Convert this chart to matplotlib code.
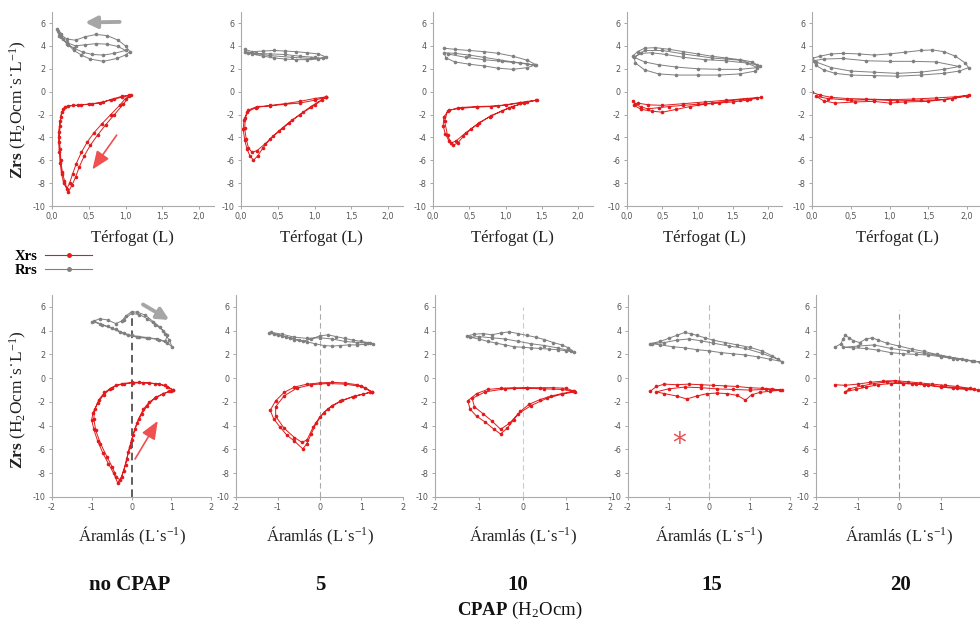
import matplotlib
matplotlib.use("Agg")
import matplotlib.pyplot as plt
from matplotlib.lines import Line2D
from matplotlib.ticker import FuncFormatter

plt.rcParams['axes.unicode_minus'] = False
plt.rcParams['mathtext.fontset'] = 'custom'
plt.rcParams['mathtext.rm'] = 'Liberation Serif'
plt.rcParams['mathtext.it'] = 'Liberation Serif:italic'
plt.rcParams['mathtext.bf'] = 'Liberation Serif:bold'

RED = '#e31a1c'
GRAY = '#808080'

cpap_labels = ['no CPAP', '5', '10', '15', '20']

# --- volume (Térfogat) panels: Zrs vs volume, (x, y) traces ---
vol_xrs_0 = [(1.05,-0.3),(0.95,-0.4),(0.85,-0.6),(0.7,-0.9),(0.55,-1.05),(0.4,-1.15),(0.28,-1.2),(0.18,-1.3),
             (0.13,-1.8),(0.11,-2.6),(0.09,-3.5),(0.09,-4.4),(0.1,-5.3),(0.11,-6.2),(0.13,-7.2),(0.16,-8.0),
             (0.2,-8.5),(0.24,-8.0),(0.28,-7.2),(0.33,-6.3),(0.4,-5.3),(0.48,-4.4),(0.57,-3.6),(0.68,-2.8),
             (0.8,-2.0),(0.92,-1.2),(1.0,-0.6),(1.07,-0.3),(0.95,-0.5),(0.8,-0.7),(0.65,-1.0),(0.5,-1.1),
             (0.35,-1.2),(0.22,-1.25),(0.15,-1.5),(0.12,-2.2),(0.11,-3.0),(0.1,-4.0),(0.11,-5.0),(0.12,-6.0),
             (0.14,-7.0),(0.17,-7.8),(0.22,-8.8),(0.27,-8.2),(0.32,-7.5),(0.37,-6.6),(0.44,-5.6),(0.52,-4.7),
             (0.62,-3.8),(0.73,-2.9),(0.85,-2.0),(0.97,-1.1),(1.05,-0.4)]
vol_rrs_0 = [(0.07,5.5),(0.1,5.1),(0.15,4.6),(0.22,4.1),(0.3,3.6),(0.4,3.2),(0.52,2.85),(0.7,2.65),(0.88,2.9),
             (1.0,3.2),(1.06,3.5),(1.0,4.0),(0.9,4.5),(0.75,4.9),(0.6,5.0),(0.45,4.8),(0.32,4.5),(0.2,4.6),
             (0.12,5.0),(0.08,5.3),(0.12,4.8),(0.2,4.2),(0.3,3.8),(0.42,3.45),(0.55,3.25),(0.7,3.2),(0.85,3.35),
             (1.0,3.6),(0.9,3.95),(0.75,4.15),(0.6,4.2),(0.45,4.1),(0.32,4.0),(0.2,4.3),(0.1,4.9)]

vol_xrs_5 = [(1.16,-0.45),(1.0,-0.6),(0.8,-0.85),(0.6,-1.05),(0.4,-1.2),(0.2,-1.4),(0.08,-1.8),(0.04,-2.5),
             (0.03,-3.3),(0.05,-4.2),(0.08,-5.0),(0.12,-5.6),(0.17,-6.0),(0.23,-5.6),(0.3,-4.9),(0.4,-4.1),
             (0.52,-3.4),(0.65,-2.7),(0.8,-2.0),(0.95,-1.3),(1.1,-0.7),(1.15,-0.5),(1.0,-0.75),(0.8,-1.0),
             (0.6,-1.1),(0.4,-1.25),(0.22,-1.3),(0.1,-1.6),(0.06,-2.3),(0.05,-3.2),(0.07,-4.1),(0.1,-4.9),
             (0.15,-5.3),(0.22,-5.15),(0.32,-4.6),(0.44,-3.9),(0.57,-3.2),(0.7,-2.5),(0.85,-1.8),(1.0,-1.2),
             (1.15,-0.5)]
vol_rrs_5 = [(0.05,3.7),(0.15,3.5),(0.3,3.55),(0.45,3.6),(0.6,3.55),(0.75,3.5),(0.9,3.4),(1.05,3.3),(1.15,3.05),
             (1.05,2.85),(0.9,2.8),(0.75,2.8),(0.6,2.85),(0.45,2.95),(0.3,3.1),(0.15,3.3),(0.05,3.5),(0.2,3.35),
             (0.4,3.3),(0.6,3.25),(0.8,3.1),(1.0,3.0),(1.12,2.9),(0.95,2.9),(0.7,3.0),(0.4,3.15),(0.1,3.4)]

vol_xrs_10 = [(1.43,-0.75),(1.2,-0.95),(1.0,-1.15),(0.8,-1.3),(0.6,-1.35),(0.4,-1.45),(0.22,-1.6),(0.15,-2.2),
              (0.14,-3.0),(0.17,-3.7),(0.22,-4.3),(0.27,-4.7),(0.34,-4.5),(0.42,-3.9),(0.52,-3.3),(0.64,-2.7),
              (0.78,-2.2),(0.95,-1.7),(1.1,-1.3),(1.25,-1.0),(1.42,-0.75),(1.2,-1.0),(0.9,-1.25),(0.6,-1.3),
              (0.35,-1.4),(0.2,-1.7),(0.16,-2.6),(0.2,-3.8),(0.25,-4.5),(0.32,-4.3),(0.45,-3.6),(0.6,-2.9),
              (0.8,-2.1),(1.05,-1.4),(1.3,-0.9)]
vol_rrs_10 = [(0.15,3.8),(0.3,3.7),(0.5,3.6),(0.7,3.5),(0.9,3.35),(1.1,3.1),(1.3,2.75),(1.42,2.35),(1.3,2.1),
              (1.1,1.95),(0.9,2.05),(0.7,2.25),(0.5,2.4),(0.3,2.6),(0.18,2.95),(0.15,3.4),(0.3,3.35),(0.5,3.2),
              (0.7,3.0),(0.9,2.8),(1.1,2.6),(1.3,2.45),(1.4,2.3),(1.2,2.5),(0.95,2.65),(0.7,2.8),(0.45,3.0),(0.2,3.3)]

vol_xrs_15 = [(0.08,-0.8),(0.12,-1.1),(0.2,-1.35),(0.3,-1.5),(0.45,-1.4),(0.6,-1.3),(0.8,-1.2),(1.0,-1.1),
              (1.2,-1.0),(1.4,-0.85),(1.6,-0.7),(1.75,-0.6),(1.9,-0.5),(1.7,-0.75),(1.5,-0.9),(1.3,-1.0),
              (1.1,-1.1),(0.9,-1.3),(0.7,-1.55),(0.5,-1.8),(0.35,-1.7),(0.2,-1.55),(0.1,-1.2),(0.15,-1.0),
              (0.3,-1.15),(0.5,-1.2),(0.8,-1.05),(1.1,-0.9),(1.4,-0.75),(1.7,-0.6),(1.85,-0.55)]
vol_rrs_15 = [(0.08,3.1),(0.15,3.5),(0.25,3.8),(0.4,3.85),(0.6,3.7),(0.8,3.5),(1.0,3.3),(1.2,3.1),(1.4,2.95),
              (1.6,2.8),(1.78,2.6),(1.88,2.2),(1.82,1.8),(1.6,1.55),(1.3,1.45),(1.0,1.45),(0.7,1.45),(0.45,1.55),
              (0.25,1.9),(0.12,2.5),(0.1,3.0),(0.2,3.35),(0.35,3.4),(0.55,3.25),(0.8,3.0),(1.1,2.8),(1.4,2.7),
              (1.7,2.5),(1.85,2.1),(1.6,1.95),(1.3,1.95),(1.0,2.0),(0.7,2.15),(0.45,2.35),(0.25,2.6),(0.1,3.0),
              (0.25,3.6),(0.5,3.6),(0.8,3.3),(1.2,2.95),(1.6,2.75),(1.85,2.3)]

vol_xrs_20 = [(0.0,-0.05),(0.1,-0.3),(0.25,-0.5),(0.45,-0.6),(0.7,-0.65),(1.0,-0.7),(1.3,-0.65),(1.6,-0.55),
              (1.85,-0.45),(2.03,-0.3),(1.8,-0.6),(1.5,-0.85),(1.2,-0.9),(1.0,-1.0),(0.8,-0.85),(0.55,-0.9),
              (0.3,-1.0),(0.15,-0.8),(0.05,-0.4),(0.2,-0.6),(0.5,-0.75),(0.8,-0.7),(1.1,-0.8),(1.4,-0.75),
              (1.7,-0.7),(2.0,-0.4)]
vol_rrs_20 = [(0.0,2.9),(0.1,3.1),(0.25,3.3),(0.4,3.35),(0.6,3.3),(0.8,3.2),(1.0,3.3),(1.2,3.45),(1.4,3.6),
              (1.55,3.65),(1.7,3.5),(1.85,3.1),(1.98,2.5),(2.02,2.1),(1.9,1.8),(1.7,1.6),(1.4,1.45),(1.1,1.35),
              (0.8,1.4),(0.5,1.45),(0.3,1.6),(0.15,1.9),(0.05,2.3),(0.02,2.7),(0.15,2.85),(0.4,2.9),(0.7,2.7),
              (1.0,2.65),(1.3,2.65),(1.6,2.6),(1.9,2.2),(1.7,1.95),(1.4,1.7),(1.1,1.6),(0.8,1.7),(0.5,1.8),
              (0.25,2.1),(0.05,2.6)]

# --- flow (Áramlás) panels: Zrs vs flow ---
flow_xrs_0 = [(1.05,-1.0),(0.9,-0.75),(0.7,-0.5),(0.45,-0.4),(0.2,-0.35),(0.0,-0.35),(-0.2,-0.45),(-0.4,-0.6),
              (-0.55,-0.95),(-0.7,-1.4),(-0.85,-2.1),(-0.97,-2.9),(-1.0,-3.5),(-0.95,-4.3),(-0.85,-5.3),
              (-0.72,-6.3),(-0.58,-7.2),(-0.45,-8.0),(-0.35,-8.8),(-0.25,-8.3),(-0.15,-7.3),(-0.08,-6.2),
              (0.0,-5.2),(0.08,-4.3),(0.18,-3.4),(0.3,-2.6),(0.45,-2.0),(0.62,-1.6),(0.8,-1.3),(0.95,-1.1),
              (1.05,-1.0),(0.85,-0.6),(0.6,-0.45),(0.3,-0.4),(0.05,-0.4),(-0.25,-0.5),(-0.5,-0.8),(-0.68,-1.2),
              (-0.82,-1.8),(-0.92,-2.6),(-0.95,-3.4),(-0.9,-4.4),(-0.78,-5.5),(-0.62,-6.6),(-0.48,-7.5),
              (-0.38,-8.3),(-0.28,-8.6),(-0.2,-7.8),(-0.12,-6.8),(-0.04,-5.8),(0.04,-4.8),(0.14,-3.8),
              (0.26,-3.0),(0.4,-2.3),(0.58,-1.7),(0.78,-1.35),(1.0,-1.05)]
flow_rrs_0 = [(-1.0,4.75),(-0.8,4.6),(-0.6,4.35),(-0.4,4.1),(-0.2,3.8),(0.0,3.6),(0.2,3.5),(0.45,3.4),(0.7,3.25),
              (0.9,2.95),(1.02,2.65),(0.95,3.2),(0.85,3.7),(0.72,4.3),(0.55,4.75),(0.35,5.3),(0.15,5.55),
              (0.0,5.6),(-0.15,5.2),(-0.25,4.8),(-0.4,4.6),(-0.6,4.9),(-0.8,5.0),(-0.95,4.8),(-0.75,4.5),
              (-0.5,4.2),(-0.3,3.9),(-0.1,3.6),(0.15,3.45),(0.4,3.35),(0.65,3.3),(0.85,3.1),(0.9,3.6),(0.8,4.0),
              (0.6,4.5),(0.4,5.0),(0.2,5.35),(0.0,5.45),(-0.2,4.9)]

flow_xrs_5 = [(1.25,-1.15),(1.1,-0.8),(0.9,-0.55),(0.6,-0.4),(0.3,-0.35),(0.0,-0.4),(-0.3,-0.5),(-0.6,-0.75),
              (-0.85,-1.2),(-1.05,-1.9),(-1.18,-2.7),(-1.1,-3.4),(-0.95,-4.1),(-0.78,-4.8),(-0.6,-5.3),
              (-0.4,-5.95),(-0.3,-5.5),(-0.2,-4.7),(-0.08,-3.8),(0.1,-2.9),(0.3,-2.3),(0.55,-1.85),(0.8,-1.55),
              (1.05,-1.35),(1.25,-1.15),(1.0,-0.7),(0.6,-0.5),(0.2,-0.45),(-0.2,-0.55),(-0.55,-0.85),
              (-0.85,-1.5),(-1.05,-2.4),(-1.05,-3.2),(-0.85,-4.2),(-0.6,-5.0),(-0.42,-5.4),(-0.3,-5.2),
              (-0.15,-4.1),(0.0,-3.3),(0.2,-2.6),(0.5,-1.95),(0.85,-1.5),(1.2,-1.2)]
flow_rrs_5 = [(-1.2,3.8),(-1.0,3.65),(-0.8,3.45),(-0.6,3.25),(-0.4,3.1),(-0.2,3.3),(0.0,3.55),(0.2,3.65),
              (0.4,3.5),(0.6,3.35),(0.8,3.2),(1.0,3.1),(1.15,3.0),(1.28,2.9),(1.1,2.85),(0.9,2.8),(0.7,2.8),
              (0.5,2.75),(0.3,2.7),(0.1,2.75),(-0.1,2.9),(-0.3,3.05),(-0.5,3.2),(-0.7,3.4),(-0.9,3.55),
              (-1.1,3.7),(-1.15,3.85),(-0.9,3.7),(-0.6,3.45),(-0.3,3.35),(0.0,3.4),(0.3,3.3),(0.6,3.1),
              (0.9,3.0),(1.2,2.95)]

flow_xrs_10 = [(1.18,-1.1),(1.0,-0.85),(0.7,-0.8),(0.4,-0.8),(0.1,-0.8),(-0.2,-0.8),(-0.5,-0.85),(-0.8,-0.95),
               (-1.05,-1.3),(-1.25,-1.9),(-1.2,-2.6),(-1.05,-3.2),(-0.85,-3.7),(-0.65,-4.3),(-0.5,-4.7),
               (-0.35,-4.2),(-0.2,-3.5),(-0.05,-2.8),(0.15,-2.2),(0.4,-1.8),(0.65,-1.5),(0.9,-1.3),(1.15,-1.1),
               (0.9,-0.95),(0.5,-0.9),(0.1,-0.85),(-0.4,-0.9),(-0.85,-1.15),(-1.15,-1.7),(-1.1,-2.4),
               (-0.9,-3.0),(-0.7,-3.6),(-0.5,-4.3),(-0.3,-3.8),(-0.1,-3.0),(0.2,-2.3),(0.55,-1.7),(0.9,-1.35),
               (1.2,-1.15)]
flow_rrs_10 = [(-1.27,3.55),(-1.1,3.7),(-0.9,3.75),(-0.7,3.65),(-0.5,3.8),(-0.3,3.9),(-0.1,3.75),(0.1,3.6),
               (0.3,3.45),(0.5,3.25),(0.7,3.0),(0.9,2.8),(1.05,2.55),(1.18,2.2),(1.0,2.3),(0.8,2.4),(0.6,2.45),
               (0.4,2.5),(0.2,2.55),(0.0,2.6),(-0.2,2.65),(-0.4,2.8),(-0.6,2.95),(-0.8,3.1),(-1.0,3.3),
               (-1.2,3.45),(-1.0,3.5),(-0.7,3.4),(-0.4,3.3),(-0.1,3.1),(0.2,2.9),(0.5,2.75),(0.8,2.55),(1.1,2.3)]

flow_xrs_15 = [(-1.45,-1.1),(-1.3,-0.7),(-1.1,-0.5),(-0.8,-0.55),(-0.5,-0.5),(-0.2,-0.55),(0.1,-0.6),(0.4,-0.65),
               (0.7,-0.7),(1.0,-0.8),(1.3,-0.85),(1.55,-0.9),(1.8,-1.0),(1.5,-1.1),(1.25,-1.2),(1.05,-1.4),
               (0.9,-1.85),(0.7,-1.45),(0.45,-1.3),(0.2,-1.25),(-0.05,-1.3),(-0.3,-1.5),(-0.55,-1.75),
               (-0.8,-1.5),(-1.1,-1.3),(-1.3,-1.15),(-1.0,-0.9),(-0.6,-0.75),(-0.2,-0.8),(0.2,-0.9),(0.6,-0.95),
               (1.0,-1.0),(1.4,-0.95),(1.75,-1.0)]
flow_rrs_15 = [(-1.45,2.9),(-1.2,3.1),(-1.0,3.35),(-0.8,3.6),(-0.6,3.85),(-0.45,3.75),(-0.3,3.6),(-0.1,3.4),
               (0.1,3.2),(0.4,3.0),(0.7,2.8),(1.0,2.6),(1.3,2.3),(1.55,1.9),(1.8,1.4),(1.5,1.6),(1.2,1.8),
               (0.9,1.95),(0.6,2.05),(0.3,2.15),(0.0,2.3),(-0.3,2.4),(-0.6,2.55),(-0.9,2.65),(-1.2,2.8),
               (-1.4,2.9),(-1.1,3.0),(-0.8,3.2),(-0.5,3.3),(-0.2,3.15),(0.1,2.95),(0.5,2.7),(0.9,2.5),(1.3,2.1),
               (1.7,1.6)]

flow_xrs_20 = [(-1.55,-0.55),(-1.3,-0.6),(-1.0,-0.5),(-0.7,-0.35),(-0.4,-0.25),(-0.1,-0.2),(0.2,-0.3),(0.5,-0.4),
               (0.8,-0.5),(1.1,-0.6),(1.4,-0.7),(1.7,-0.85),(1.9,-1.0),(1.6,-0.95),(1.3,-0.85),(1.0,-0.75),
               (0.7,-0.6),(0.4,-0.5),(0.1,-0.45),(-0.2,-0.45),(-0.5,-0.55),(-0.8,-0.75),(-1.05,-0.95),
               (-1.3,-1.15),(-1.2,-0.9),(-0.9,-0.65),(-0.6,-0.45),(-0.3,-0.3),(0.0,-0.35),(0.3,-0.45),
               (0.6,-0.55),(1.0,-0.7),(1.4,-0.8),(1.8,-0.95)]
flow_rrs_20 = [(-1.55,2.6),(-1.4,2.9),(-1.35,3.3),(-1.3,3.6),(-1.2,3.4),(-1.1,3.15),(-0.95,3.0),(-0.8,3.3),
               (-0.65,3.4),(-0.5,3.2),(-0.3,2.95),(0.0,2.7),(0.3,2.45),(0.6,2.25),(0.9,2.0),(1.2,1.8),(1.5,1.6),
               (1.75,1.45),(1.95,1.35),(1.6,1.5),(1.3,1.65),(1.0,1.8),(0.7,1.95),(0.4,2.0),(0.1,2.05),
               (-0.2,2.15),(-0.5,2.35),(-0.8,2.5),(-1.1,2.55),(-1.35,2.6),(-1.0,2.7),(-0.6,2.8),(-0.2,2.5),
               (0.2,2.3),(0.6,2.1),(1.0,1.9),(1.4,1.65),(1.8,1.45)]

vol_xrs = [vol_xrs_0, vol_xrs_5, vol_xrs_10, vol_xrs_15, vol_xrs_20]
vol_rrs = [vol_rrs_0, vol_rrs_5, vol_rrs_10, vol_rrs_15, vol_rrs_20]
flow_xrs = [flow_xrs_0, flow_xrs_5, flow_xrs_10, flow_xrs_15, flow_xrs_20]
flow_rrs = [flow_rrs_0, flow_rrs_5, flow_rrs_10, flow_rrs_15, flow_rrs_20]

# zero-flow dashed line top (value) per flow panel
zero_line_top = [5.5, 6.3, 6.0, 6.3, 5.7]
zero_line_col = ['#333333', '#aaaaaa', '#cccccc', '#bbbbbb', '#999999']

# panel placement in pixels (left, pixels per x unit)
W, H = 980, 628
top_left = [52, 241, 433, 627, 812]
top_ppu = [73.5, 73.5, 72.5, 70.5, 77.5]
bot_left = [52, 236, 435, 628, 816]
bot_ppu = [39.75, 41.75, 43.75, 40.5, 41.6]

fig = plt.figure(figsize=(W / 100, H / 100), dpi=100)


def style(ax):
    for s in ['top', 'right']:
        ax.spines[s].set_visible(False)
    for s in ['left', 'bottom']:
        ax.spines[s].set_color('#aaaaaa')
        ax.spines[s].set_linewidth(0.8)
    ax.tick_params(labelsize=5.8, labelcolor='#555555', color='#999999',
                   length=2.5, width=0.6, pad=2)
    ax.set_ylim(-10, 7)
    ax.set_yticks(range(-10, 7, 2))


def draw(ax, trace, color):
    xs = [p[0] for p in trace]
    ys = [p[1] for p in trace]
    ax.plot(xs, ys, '-o', color=color, lw=0.7, ms=2.6, mew=0)


serif = 'Liberation Serif'
top_axes, bot_axes = [], []
for i in range(5):
    ax = fig.add_axes([top_left[i] / W, 1 - 206 / H, 2.2 * top_ppu[i] / W, 194.4 / H])
    style(ax)
    ax.set_xlim(0, 2.2)
    ax.set_xticks([0, 0.5, 1.0, 1.5, 2.0])
    ax.xaxis.set_major_formatter(FuncFormatter(lambda v, p: f"{v:.1f}".replace('.', ',')))
    draw(ax, vol_rrs[i], GRAY)
    draw(ax, vol_xrs[i], RED)
    ax.set_xlabel('Térfogat (L)', family=serif, fontsize=12, color='#222222')
    ax.xaxis.set_label_coords(0.5, -0.125)
    top_axes.append(ax)

    ax = fig.add_axes([bot_left[i] / W, 1 - 497 / H, 4 * bot_ppu[i] / W, 202 / H])
    style(ax)
    ax.set_xlim(-2, 2)
    # the last panel runs off the right edge, so its "2" is not shown
    ax.set_xticks([-2, -1, 0, 1, 2] if i < 4 else [-2, -1, 0, 1])
    ax.vlines(0, -10, zero_line_top[i], colors=zero_line_col[i],
              linestyles=(0, (5, 3)), lw=1.1 if i == 0 else 0.8)
    draw(ax, flow_rrs[i], GRAY)
    draw(ax, flow_xrs[i], RED)
    ax.set_xlabel('Áramlás (L˙s$^{-1}$)', family=serif, fontsize=12, color='#222222')
    ax.xaxis.set_label_coords(0.5, -0.14)
    bot_axes.append(ax)

# direction arrows
grey_arrow = dict(arrowstyle='-|>,head_length=0.7,head_width=0.35', lw=2.8,
                  color='#a6a6a6', shrinkA=0, shrinkB=0)
red_arrow = dict(arrowstyle='-|>,head_length=1.1,head_width=0.45', lw=1.2,
                 color='#f05050', shrinkA=0, shrinkB=0)
top_axes[0].annotate('', xy=(0.45, 6.05), xytext=(0.92, 6.1), arrowprops=grey_arrow)
top_axes[0].annotate('', xy=(0.55, -6.8), xytext=(0.88, -3.8), arrowprops=red_arrow)
bot_axes[0].annotate('', xy=(0.95, 4.9), xytext=(0.29, 6.2), arrowprops=grey_arrow)
bot_axes[0].annotate('', xy=(0.66, -3.6), xytext=(0.09, -6.8), arrowprops=red_arrow)
bot_axes[3].text(-0.75, -5.5, '*', color='#e85050', fontsize=20, ha='center', va='center')

# y labels
ylab = r'$\mathbf{Zrs}$ (H$_2$Ocm˙s˙L$^{-1}$)'
fig.text(18 / W, 1 - 110 / H, ylab, rotation=90, ha='center', va='center',
         family=serif, fontsize=12.5, color='#222222')
fig.text(18 / W, 1 - 400 / H, ylab, rotation=90, ha='center', va='center',
         family=serif, fontsize=12.5, color='#222222')

# legend
handles = [Line2D([], [], color=RED, marker='o', ms=2.5, lw=0.8),
           Line2D([], [], color=GRAY, marker='o', ms=2.5, lw=0.8)]
fig.legend(handles, ['Xrs', 'Rrs'], markerfirst=False, frameon=False, loc='upper left',
           bbox_to_anchor=(0.002, 1 - 237 / H), handlelength=3.2, labelspacing=0.05,
           handletextpad=0.5, prop=dict(family=serif, weight='bold', size=10.5))

# CPAP labels
cpap_x = [130, 320, 518, 712, 900]
for x, lab in zip(cpap_x, cpap_labels):
    fig.text(x / W, 1 - 585 / H, lab, ha='center', va='center', family=serif,
             fontsize=15, weight='bold', color='#111111')
fig.text(520 / W, 1 - 610 / H, r'$\mathbf{CPAP}$ (H$_2$Ocm)', ha='center', va='center',
         family=serif, fontsize=13.5, color='#111111')

fig.savefig('out.png', dpi=100)
